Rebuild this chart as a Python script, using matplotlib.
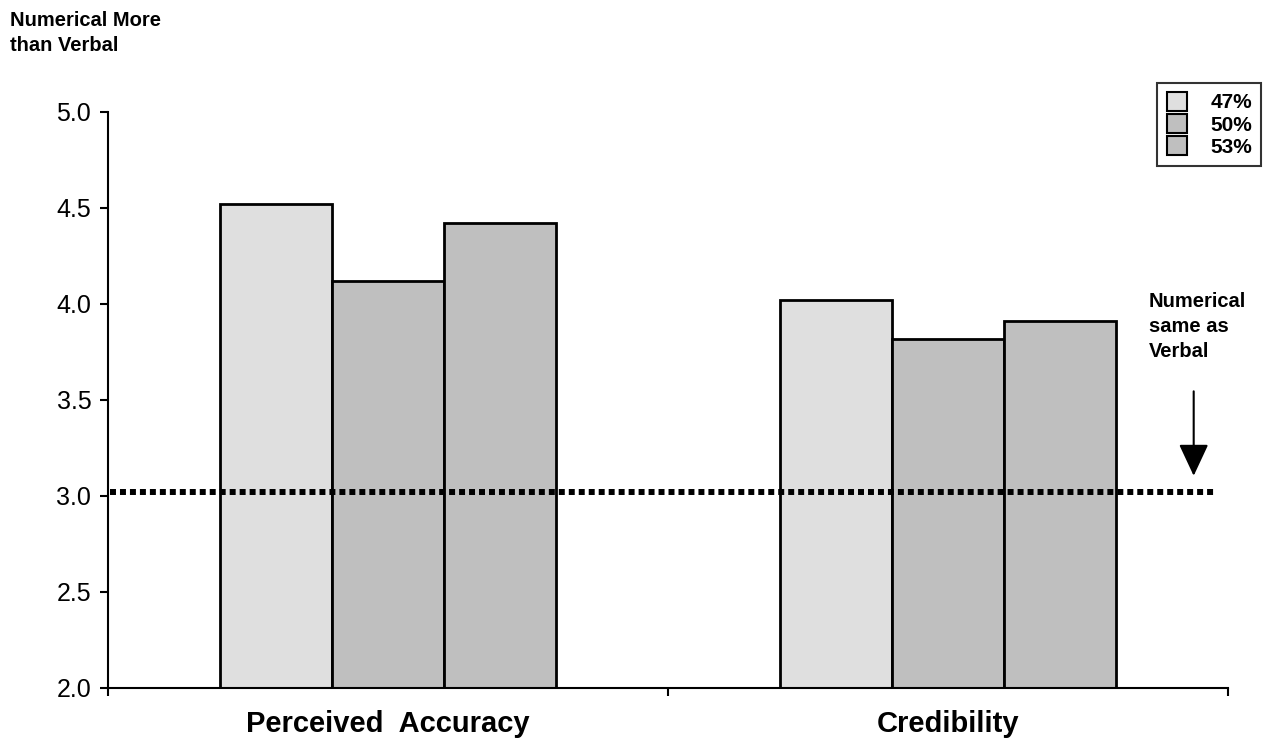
import numpy as np
import matplotlib
matplotlib.use("Agg")
import matplotlib.pyplot as plt
from matplotlib.patches import Patch

plt.rcParams['font.family'] = ['Liberation Sans', 'DejaVu Sans']

categories = ['Perceived  Accuracy', 'Credibility']
series = ['47%', '50%', '53%']
values = {
    '47%': [4.52, 4.02],
    '50%': [4.12, 3.82],
    '53%': [4.42, 3.91],
}
colors = ['#dfdfdf', '#bfbfbf', '#bfbfbf']
ref_level = 3.02

fig = plt.figure(figsize=(12.64, 7.38), dpi=100)
ax = fig.add_axes([0.0854, 0.0678, 0.886, 0.7805])

x = np.arange(len(categories))
w = 0.2
for i, s in enumerate(series):
    ax.bar(x + (i - 1) * w, np.array(values[s]) - 2.0, w, bottom=2.0,
           color=colors[i], edgecolor='black', linewidth=2, zorder=2)

# reference line: numerical same as verbal
ax.plot([-0.497, 1.475], [ref_level, ref_level], color='black', lw=4.3,
        linestyle=(0, (1, 0.67)), zorder=3, dash_capstyle='butt')

ax.annotate('', xy=(1.439, 3.105), xytext=(1.439, 3.545),
            arrowprops=dict(arrowstyle='-|>,head_length=0.6,head_width=0.28',
                            color='black', lw=1.5, mutation_scale=33,
                            shrinkA=0, shrinkB=0))
ax.text(1.359, 4.06, 'Numerical\nsame as\nVerbal', fontsize=14.5, fontweight='bold',
        ha='left', va='top', linespacing=1.4)

ax.set_xlim(-0.5, 1.5)
ax.set_ylim(2.0, 5.0)
yt = np.arange(2.0, 5.01, 0.5)
ax.set_yticks(yt)
ax.set_yticklabels(['%.1f' % v for v in yt], fontsize=18)

ax.set_xticks([-0.5, 0.5, 1.5])
ax.set_xticklabels([])
ax.set_xticks(x, minor=True)
ax.set_xticklabels(categories, minor=True, fontsize=21, fontweight='bold')
ax.tick_params(axis='x', which='minor', length=0, pad=16)
ax.tick_params(axis='x', which='major', length=6, width=1.5, direction='out')
ax.tick_params(axis='y', length=6, width=1.5, direction='out', pad=6)

for side in ['top', 'right']:
    ax.spines[side].set_visible(False)
for side in ['left', 'bottom']:
    ax.spines[side].set_linewidth(1.5)

handles = [Patch(facecolor=colors[i], edgecolor='black', linewidth=1.5, label=s)
           for i, s in enumerate(series)]
leg = fig.legend(handles=handles, loc='upper right', bbox_to_anchor=(0.998, 0.888),
                 frameon=True, fancybox=False, prop={'weight': 'bold', 'size': 15},
                 handlelength=1.0, handleheight=1.0, labelspacing=0.08,
                 handletextpad=1.1, borderpad=0.45, borderaxespad=0)
leg.get_frame().set_edgecolor('black')
leg.get_frame().set_linewidth(1.5)

fig.text(0.008, 0.985, 'Numerical More\nthan Verbal', fontsize=14.5, fontweight='bold',
         ha='left', va='top', linespacing=1.4)

fig.savefig('out.png', dpi=100)
